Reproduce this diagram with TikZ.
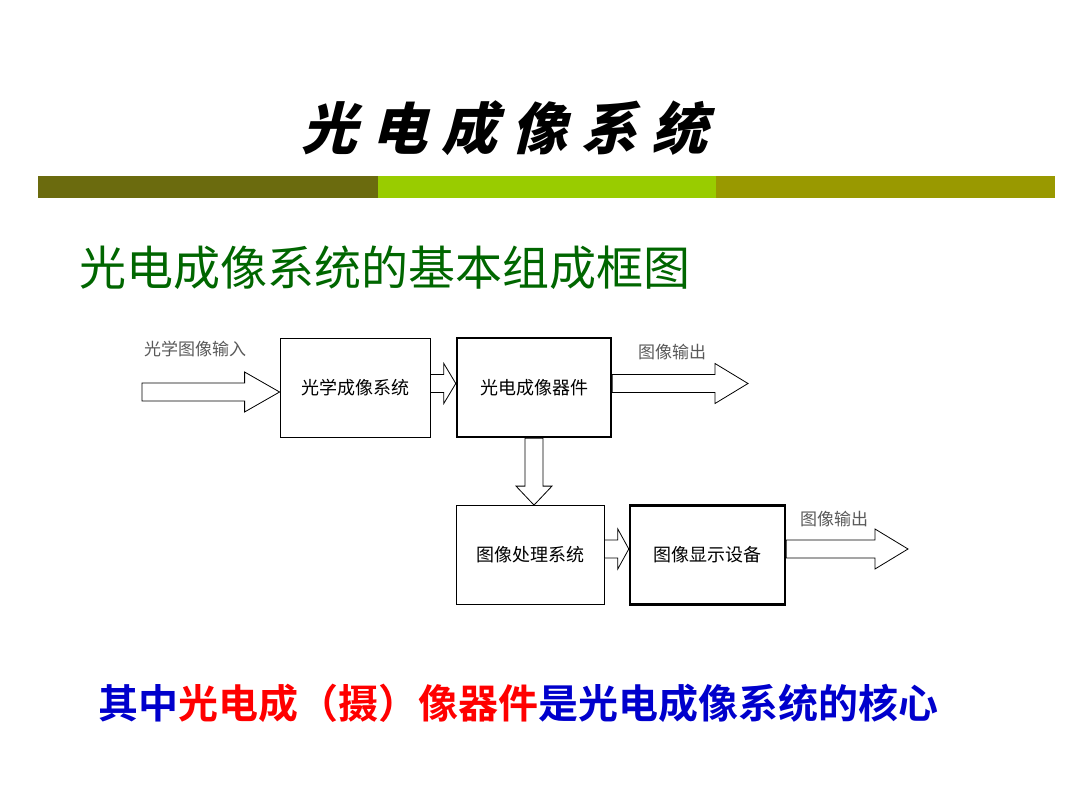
\documentclass[tikz,border=0pt]{standalone}
\usepackage{fontspec}
\setmainfont{Noto Sans CJK SC}
\newfontfamily\cjkbold{Noto Sans CJK SC Bold}
\newfontfamily\cjkblack{Noto Sans CJK SC Black}
\usetikzlibrary{calc}
\definecolor{barA}{HTML}{6B6B0E}
\definecolor{barB}{HTML}{99CC00}
\definecolor{barC}{HTML}{999900}
\definecolor{subgreen}{HTML}{006600}
\definecolor{capblue}{HTML}{0000CC}
\definecolor{capred}{HTML}{FF0000}
\tikzset{
  blockbox/.style={draw, line width=0.8pt, minimum width=150pt, minimum height=99pt, font=\fontsize{18}{20}\selectfont},
  corebox/.style={blockbox, line width=2.4pt},
  blk/.style={draw, fill=white, line width=0.8pt, line join=miter},
  lbl/.style={font=\fontsize{17}{19}\selectfont, text=black!65}
}
% hollow block arrow: start, end, head length
\newcommand\harr[3]{\draw[blk] let \p1=(#1), \p2=(#2) in
  (\x1,\y1+9pt) -- (\x2-#3,\y1+9pt) -- (\x2-#3,\y1+20pt) -- (\x2,\y1)
  -- (\x2-#3,\y1-20pt) -- (\x2-#3,\y1-9pt) -- (\x1,\y1-9pt) -- cycle;}
\newcommand\varr[3]{\draw[blk] let \p1=(#1), \p2=(#2) in
  (\x1-9pt,\y1) -- (\x1-9pt,\y2+#3) -- (\x1-18pt,\y2+#3) -- (\x1,\y2)
  -- (\x1+18pt,\y2+#3) -- (\x1+9pt,\y2+#3) -- (\x1+9pt,\y1) -- cycle;}
\begin{document}
\begin{tikzpicture}[x=1pt,y=-1pt]
\useasboundingbox (0,0) rectangle (1080,810);
% title and bar
\node[xslant=0.25, font=\cjkblack\fontsize{56}{60}\selectfont] (title) at (510,128) {光\kern14pt 电\kern14pt 成\kern14pt 像\kern14pt 系\kern14pt 统};
\fill[barA] (38,176) rectangle (378,198);
\fill[barB] (378,176) rectangle (716,198);
\fill[barC] (716,176) rectangle (1055,198);
\node[anchor=west, text=subgreen, font=\fontsize{47}{50}\selectfont] (sub) at (76,268) {光电成像系统的基本组成框图};
% blocks
\node[blockbox] (optic) at (355,387.5) {光学成像系统};
\node[corebox, minimum width=154pt] (sensor) at (534,387.5) {光电成像器件};
\node[blockbox, minimum width=148pt] (proc) at (530,555) {图像处理系统};
\node[corebox, minimum width=155pt] (disp) at (707.5,555) {图像显示设备};
\coordinate (in) at (142,392);
\coordinate (out1) at (748,392);
\coordinate (out2) at (908,561);
% arrows
\harr{in}{$(optic.west)+(0,-4)$}{35pt}
\harr{$(optic.east)+(0,-4)$}{$(sensor.west)+(0,-4)$}{12pt}
\harr{$(sensor.east)+(0,-4)$}{out1}{33pt}
\varr{sensor.south}{proc.north}{19pt}
\harr{$(proc.east)+(0,-6)$}{$(disp.west)+(0,-6)$}{11pt}
\harr{$(disp.east)+(0,-6)$}{out2}{33pt}
\node[lbl] (inlbl) at (195,349) {光学图像输入};
\node[lbl] (outlbl1) at (672,352) {图像输出};
\node[lbl] (outlbl2) at (834,519) {图像输出};
% caption
\node[anchor=west, font=\cjkbold\fontsize{40}{44}\selectfont] (cap) at (95,703)
  {\textcolor{capblue}{其中}\textcolor{capred}{光电成（摄）像器件}\textcolor{capblue}{是光电成像系统的核心}};
\end{tikzpicture}
\end{document}
